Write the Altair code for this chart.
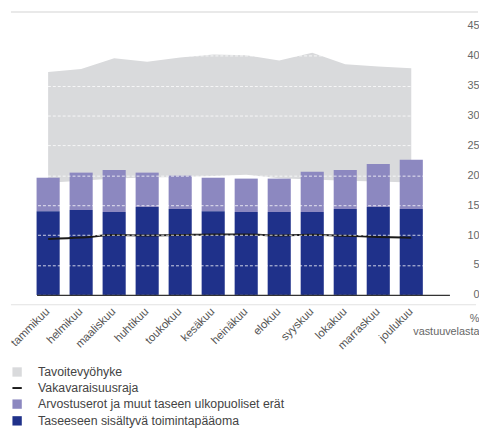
import altair as alt
import pandas as pd

months = ["tammikuu", "helmikuu", "maaliskuu", "huhtikuu", "toukokuu", "kesäkuu",
          "heinäkuu", "elokuu", "syyskuu", "lokakuu", "marraskuu", "joulukuu"]
zone_high = [37.3, 37.8, 39.6, 39.0, 39.7, 40.2, 40.1, 39.2, 40.5, 38.6, 38.2, 37.9]
zone_low = [18.75, 19.1, 19.45, 19.65, 19.7, 19.9, 20.1, 19.5, 19.3, 19.1, 18.95, 18.8]
solvency_limit = [9.35, 9.6, 10.0, 9.95, 10.0, 10.1, 10.1, 9.95, 10.05, 9.9, 9.7, 9.55]
working_capital = [14.0, 14.2, 13.85, 14.7, 14.35, 14.0, 13.85, 13.85, 13.85, 14.35, 14.7, 14.35]
total_capital = [19.6, 20.45, 20.9, 20.45, 19.95, 19.6, 19.45, 19.45, 20.6, 20.9, 21.9, 22.6]

zone_name = "Tavoitevyöhyke"
line_name = "Vakavaraisuusraja"
bar_names = ["Arvostuserot ja muut taseen ulkopuoliset erät",
             "Taseeseen sisältyvä toimintapääoma"]
zone_color = "#d9dadc"
line_color = "#1a1a1a"
bar_colors = ["#8c88c0", "#1f318a"]
y_ticks = [0, 5, 10, 15, 20, 25, 30, 35, 40, 45]

df_zone = pd.DataFrame({"month": months, "hi": zone_high, "lo": zone_low, "series": zone_name})
df_line = pd.DataFrame({"month": months, "hi": solvency_limit, "lo": solvency_limit, "series": line_name})
df_light = pd.DataFrame({"month": months, "hi": total_capital, "lo": working_capital, "series": bar_names[0]})
df_dark = pd.DataFrame({"month": months, "hi": working_capital, "lo": [0] * 12, "series": bar_names[1]})

FONT = "Liberation Sans"
LEG_X = -26
LEG_Y = 345
ROW = 16.3

x_enc = alt.X("month:N", sort=months, title=None,
              scale=alt.Scale(paddingInner=0.3, paddingOuter=0.403, align=0),
              axis=alt.Axis(labelAngle=-45, labelAlign="right", labelBaseline="middle",
                            labelPadding=15, ticks=False, domainColor="#333333",
                            domainWidth=1.5, labelFontSize=11.5, labelColor="#555555",
                            labelFont=FONT, zindex=2, grid=False))

y_axis = alt.Axis(orient="right", values=y_ticks, ticks=False, domain=False,
                  labelAlign="right", labelPadding=30, labelFontSize=11,
                  labelColor="#666666", labelFont=FONT,
                  grid=True, gridColor="#ffffff", gridDash=[3, 2], gridOpacity=0.8,
                  gridWidth=1, zindex=1,
                  title=["%", "vastuuvelasta"], titleAngle=0, titleAlign="right",
                  titleBaseline="top", titleX=30, titleY=291, titleFontSize=11,
                  titleFontWeight="normal", titleColor="#666666", titleFont=FONT,
                  titleLineHeight=13)
y_scale = alt.Scale(domain=[0, 45], nice=False, zero=True)


def leg(row, stype):
    return alt.Legend(title=None, orient="none", legendX=LEG_X, legendY=LEG_Y + row * ROW,
                      direction="vertical", labelFontSize=12.5, labelColor="#444444",
                      labelFont=FONT, labelOffset=15, symbolSize=90, labelLimit=400,
                      symbolType=stype, symbolOpacity=1)


def Y():
    return alt.Y("hi:Q", scale=y_scale, axis=y_axis)


zone = alt.Chart(df_zone).mark_area(interpolate="linear", opacity=1).encode(
    x=x_enc, y=Y(), y2="lo:Q",
    fill=alt.Fill("series:N", scale=alt.Scale(domain=[zone_name], range=[zone_color]),
                  legend=leg(0, "square")))
light = alt.Chart(df_light).mark_bar(opacity=1).encode(
    x=x_enc, y=Y(), y2="lo:Q",
    color=alt.Color("series:N", scale=alt.Scale(domain=bar_names, range=bar_colors),
                    legend=leg(2, "square")))
dark = alt.Chart(df_dark).mark_bar(opacity=1).encode(
    x=x_enc, y=Y(), y2="lo:Q",
    color=alt.Color("series:N", scale=alt.Scale(domain=bar_names, range=bar_colors),
                    legend=leg(2, "square")))
line = alt.Chart(df_line).mark_line(strokeWidth=2, interpolate="monotone").encode(
    x=x_enc, y=Y(),
    stroke=alt.Stroke("series:N", scale=alt.Scale(domain=[line_name], range=[line_color]),
                      legend=leg(1, "stroke")))

sep = pd.DataFrame({"k": [0]})
top_rule = alt.Chart(sep).mark_rule(color="#e2e2e2", strokeWidth=1.5).encode(
    x=alt.value(-26), x2=alt.value(448), y=alt.value(-14))
bottom_rule = alt.Chart(sep).mark_rule(color="#e2e2e2", strokeWidth=1.2).encode(
    x=alt.value(-26), x2=alt.value(446), y=alt.value(283))

chart = alt.layer(zone, light, dark, line, top_rule, bottom_rule).properties(
    width=419, height=273, padding=0
).configure(font=FONT).configure_view(stroke=None).configure_legend(
    padding=0, rowPadding=4, symbolStrokeWidth=2)

chart.save("out.html", embed_options={"renderer": "svg", "actions": False})
